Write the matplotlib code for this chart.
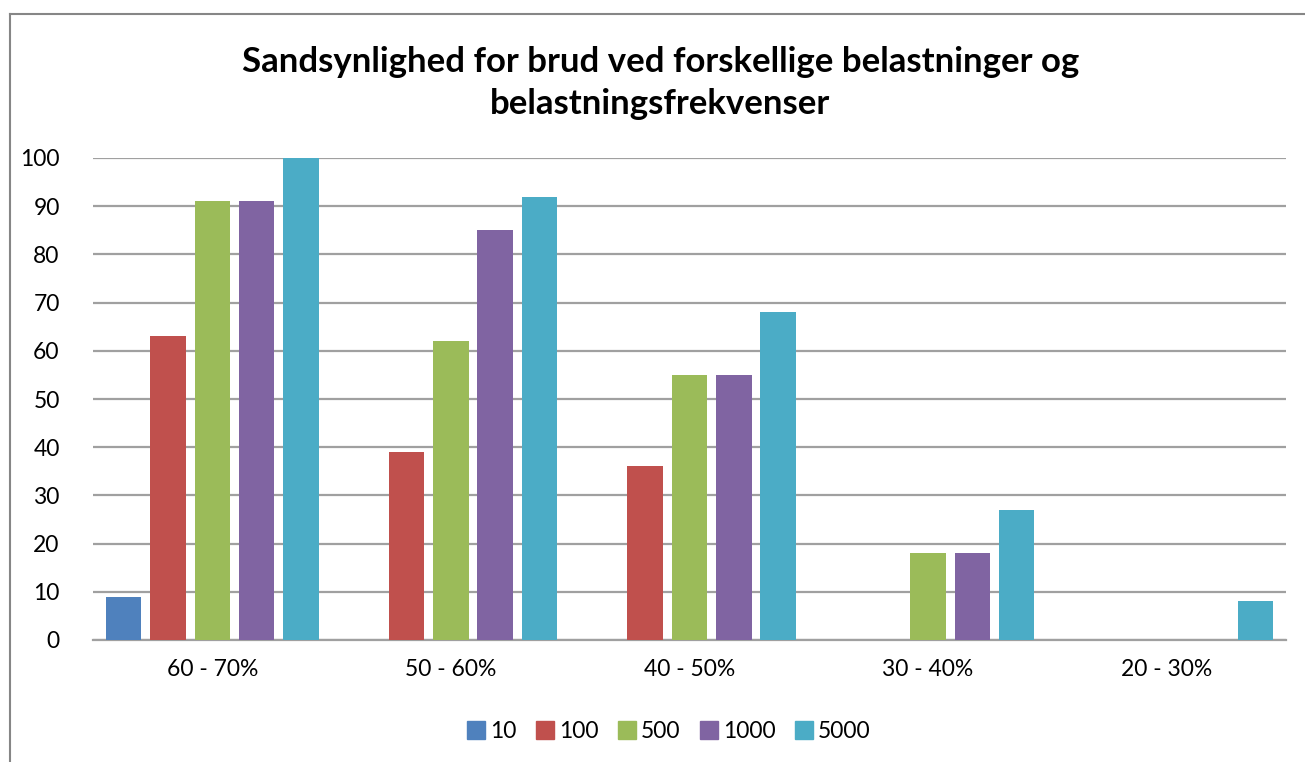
import matplotlib

matplotlib.use("Agg")
import matplotlib.pyplot as plt
import numpy as np
from matplotlib.lines import Line2D

plt.rcParams["font.family"] = ["Lato", "DejaVu Sans"]

categories = ["60 - 70%", "50 - 60%", "40 - 50%", "30 - 40%", "20 - 30%"]
series_names = ["10", "100", "500", "1000", "5000"]
v10 = [9, 0, 0, 0, 0]
v100 = [63, 39, 36, 0, 0]
v500 = [91, 62, 55, 18, 0]
v1000 = [91, 85, 55, 18, 0]
v5000 = [100, 92, 68, 27, 8]
series_values = [v10, v100, v500, v1000, v5000]

COLORS = ["#4F81BD", "#C0504D", "#9BBB59", "#8064A2", "#4BACC6"]
GRID = "#A0A0A0"

fig = plt.figure(figsize=(13.05, 7.62), dpi=100)
ax = fig.add_axes([93 / 1305, 1 - 640 / 762, (1286 - 93) / 1305, (640 - 158) / 762])

x = np.arange(len(categories))
slot = 0.1857
width = 0.149
for i, (name, vals) in enumerate(zip(series_names, series_values)):
    ax.bar(x + (i - 2) * slot, vals, width=width, color=COLORS[i],
           label=name, zorder=3)

ax.set_xlim(-0.5, len(categories) - 0.5)
ax.set_ylim(0, 100)
ax.set_yticks(range(0, 101, 10))
ax.set_xticks(x)
ax.set_xticklabels(categories)
ax.tick_params(axis="both", length=0, labelsize=16.5, colors="black")
ax.tick_params(axis="y", pad=24)
ax.tick_params(axis="x", pad=14)
ax.grid(True, axis="y", color=GRID, linewidth=1.6, zorder=0)
for s in ["top", "right", "left"]:
    ax.spines[s].set_visible(False)
ax.spines["bottom"].set_color(GRID)
ax.spines["bottom"].set_linewidth(1.6)

fig.text(0.506, 1 - 83 / 762, "Sandsynlighed for brud ved forskellige belastninger og\nbelastningsfrekvenser",
         ha="center", va="center", fontsize=25, fontweight="bold", linespacing=1.38)

handles = [Line2D([], [], marker="s", linestyle="", markersize=13,
                  color=c) for c in COLORS]
fig.legend(handles, series_names, loc="center", bbox_to_anchor=(0.512, 1 - 732 / 762),
           ncol=5, frameon=False, fontsize=16.5, handletextpad=0.15,
           columnspacing=0.8, handlelength=0.9)

# Rand om diagrammet (kun venstre og top synlig)
fig.add_artist(Line2D([10 / 1305, 10 / 1305], [0, 1 - 14 / 762],
                      transform=fig.transFigure, color="#868686", linewidth=1.5))
fig.add_artist(Line2D([10 / 1305, 1], [1 - 14 / 762, 1 - 14 / 762],
                      transform=fig.transFigure, color="#868686", linewidth=1.5))

fig.savefig("out.png", dpi=100)
